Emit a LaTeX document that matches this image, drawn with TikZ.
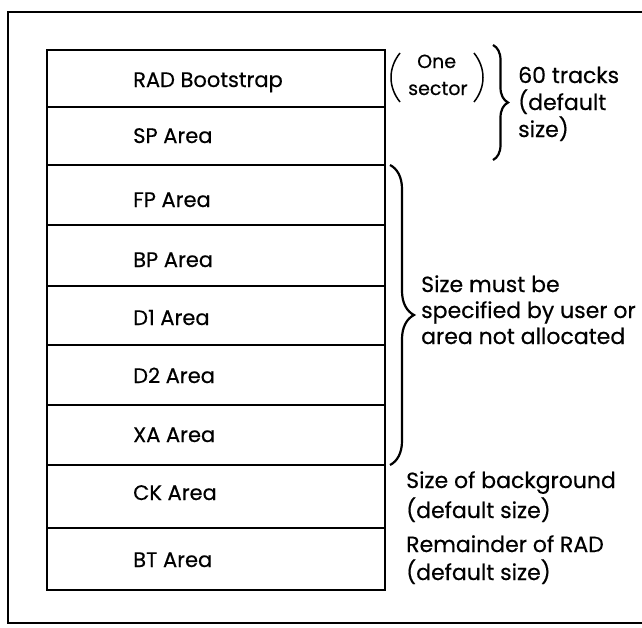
\documentclass[tikz,border=0pt]{standalone}
\usepackage{fontspec}
\setmainfont{Poppins}[FakeBold=0.4]
\usetikzlibrary{decorations.pathreplacing}
\begin{document}
\begin{tikzpicture}[x=1pt,y=-1pt,
  frame/.style={line width=2.6pt},
  rowline/.style={line width=2.2pt},
  paren/.style={line width=1.5pt},
  bracepath/.style={line width=2.2pt, decorate},
  lbl/.style={anchor=base west, inner sep=0pt, font=\fontsize{21}{21}\selectfont},
  side/.style={anchor=base west, inner sep=0pt, font=\fontsize{22}{22}\selectfont},
  small/.style={anchor=base west, inner sep=0pt, font=\fontsize{19}{19}\selectfont}]
\useasboundingbox (0,0) rectangle (642,627);
\draw[frame] (645,12) -- (8,12) -- (8,623) -- (645,623);
% stack
\draw[rowline] (47,50) rectangle (385,590);
\foreach \yy in {107,165,225,286,345,405,465,528}
  \draw[rowline] (47,\yy) -- (385,\yy);
\node[lbl] (rad) at (133,87) {RAD Bootstrap};
\node[lbl] (sp) at (133,143) {SP Area};
\node[lbl] (fp) at (133,207) {FP Area};
\node[lbl] (bp) at (133,267) {BP Area};
\node[lbl] (d1) at (133,325) {D1 Area};
\node[lbl] (d2) at (133,383) {D2 Area};
\node[lbl] (xa) at (133,442) {XA Area};
\node[lbl] (ck) at (133,500) {CK Area};
\node[lbl] (bt) at (133,567) {BT Area};
% one sector
\draw[paren] (400,53) .. controls (388,68) and (388,87) .. (400,102);
\draw[paren] (474,53) .. controls (486,68) and (486,87) .. (474,102);
\node[small] (one) at (417,68) {One};
\node[small] (sector) at (408,95) {sector};
% brace 1
\draw[bracepath, decoration={brace, amplitude=15pt}] (493,45) -- (493,160);
\node[side] (t1) at (518,83) {60 tracks};
\node[side] (t2) at (518,110) {(default};
\node[side] (t3) at (518,137) {size)};
% brace 2
\draw[bracepath, decoration={brace, amplitude=24pt}] (390,165) -- (390,465);
\node[side] (s1) at (421,292) {Size must be};
\node[side] (s2) at (421,318) {specified by user or};
\node[side] (s3) at (421,344) {area not allocated};
% lower notes
\node[side] (b1) at (406,488) {Size of background};
\node[side] (b2) at (406,518) {(default size)};
\node[side] (r1) at (406,552) {Remainder of RAD};
\node[side] (r2) at (406,580) {(default size)};
\end{tikzpicture}
\end{document}
